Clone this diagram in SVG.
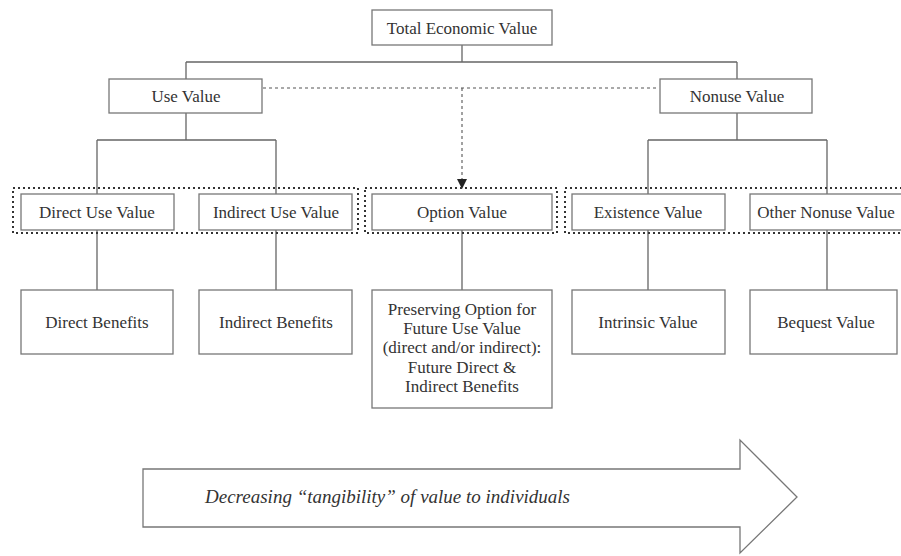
<svg xmlns="http://www.w3.org/2000/svg" width="901" height="556" viewBox="0 0 901 556">
<style>
.box{fill:#fff;stroke:#777;stroke-width:1.3}
.ln{fill:none;stroke:#666;stroke-width:1.3}
.dot{fill:none;stroke:#333;stroke-width:2;stroke-dasharray:2 3}
.dash{fill:none;stroke:#555;stroke-width:1.1;stroke-dasharray:3 3}
text{font-family:"Liberation Serif","DejaVu Serif",serif;font-size:17px;fill:#333;text-anchor:middle}
.it{font-style:italic;text-anchor:start;font-size:19px}
</style>
<defs>
<marker id="ah" viewBox="0 0 10 10" refX="10" refY="5" markerWidth="10" markerHeight="10" markerUnits="userSpaceOnUse" orient="auto">
<path d="M0,0 L10,5 L0,10 Z" fill="#222"/>
</marker>
</defs>
<g id="connectors">
<path class="ln" d="M462,45 V62 M186,62 H737 M186,62 V79 M737,62 V79"/>
<path class="ln" d="M186,113 V140 M97,140 H276 M97,140 V194 M276,140 V194"/>
<path class="ln" d="M737,113 V140 M648,140 H827 M648,140 V194 M827,140 V194"/>
<path class="ln" d="M97,230 V290 M276,230 V290 M462,230 V290 M648,230 V290 M827,230 V290"/>
<path class="dash" d="M263,88 H659"/>
<path class="dash" d="M462,88 V189" marker-end="url(#ah)"/>
</g>
<g id="groups">
<rect class="dot" x="13" y="188" width="345" height="45"/>
<rect class="dot" x="365" y="188" width="192" height="45"/>
<rect class="dot" x="565" y="188" width="345" height="45"/>
</g>
<g id="total"><rect class="box" x="372" y="10" width="180" height="35"/><text x="462" y="34">Total Economic Value</text></g>
<g id="use"><rect class="box" x="109" y="79" width="153" height="34"/><text x="186" y="102">Use Value</text></g>
<g id="nonuse"><rect class="box" x="660" y="79" width="152" height="34"/><text x="737" y="102">Nonuse Value</text></g>
<g id="direct-use"><rect class="box" x="21" y="194" width="153" height="36"/><text x="97" y="218">Direct Use Value</text></g>
<g id="indirect-use"><rect class="box" x="199" y="194" width="153" height="36"/><text x="276" y="218">Indirect Use Value</text></g>
<g id="option"><rect class="box" x="372" y="194" width="180" height="36"/><text x="462" y="218">Option Value</text></g>
<g id="existence"><rect class="box" x="572" y="194" width="153" height="36"/><text x="648" y="218">Existence Value</text></g>
<g id="other-nonuse"><rect class="box" x="750" y="194" width="160" height="36"/><text x="826" y="218">Other Nonuse Value</text></g>
<g id="direct-benefits"><rect class="box" x="21" y="290" width="152" height="64"/><text x="97" y="328">Direct Benefits</text></g>
<g id="indirect-benefits"><rect class="box" x="199" y="290" width="153" height="64"/><text x="276" y="328">Indirect Benefits</text></g>
<g id="preserving"><rect class="box" x="372" y="290" width="180" height="118"/>
<text x="462" y="315">Preserving Option for</text>
<text x="462" y="334">Future Use Value</text>
<text x="462" y="353">(direct and/or indirect):</text>
<text x="462" y="373">Future Direct &amp;</text>
<text x="462" y="392">Indirect Benefits</text>
</g>
<g id="intrinsic"><rect class="box" x="572" y="290" width="153" height="64"/><text x="648" y="328">Intrinsic Value</text></g>
<g id="bequest"><rect class="box" x="750" y="290" width="147" height="64"/><text x="826" y="328">Bequest Value</text></g>
<g id="tangibility">
<path class="box" d="M143,469 H740 V440 L797,497 L740,553 V527 H143 Z"/>
<text class="it" x="205" y="503">Decreasing “tangibility” of value to individuals</text>
</g>
</svg>
